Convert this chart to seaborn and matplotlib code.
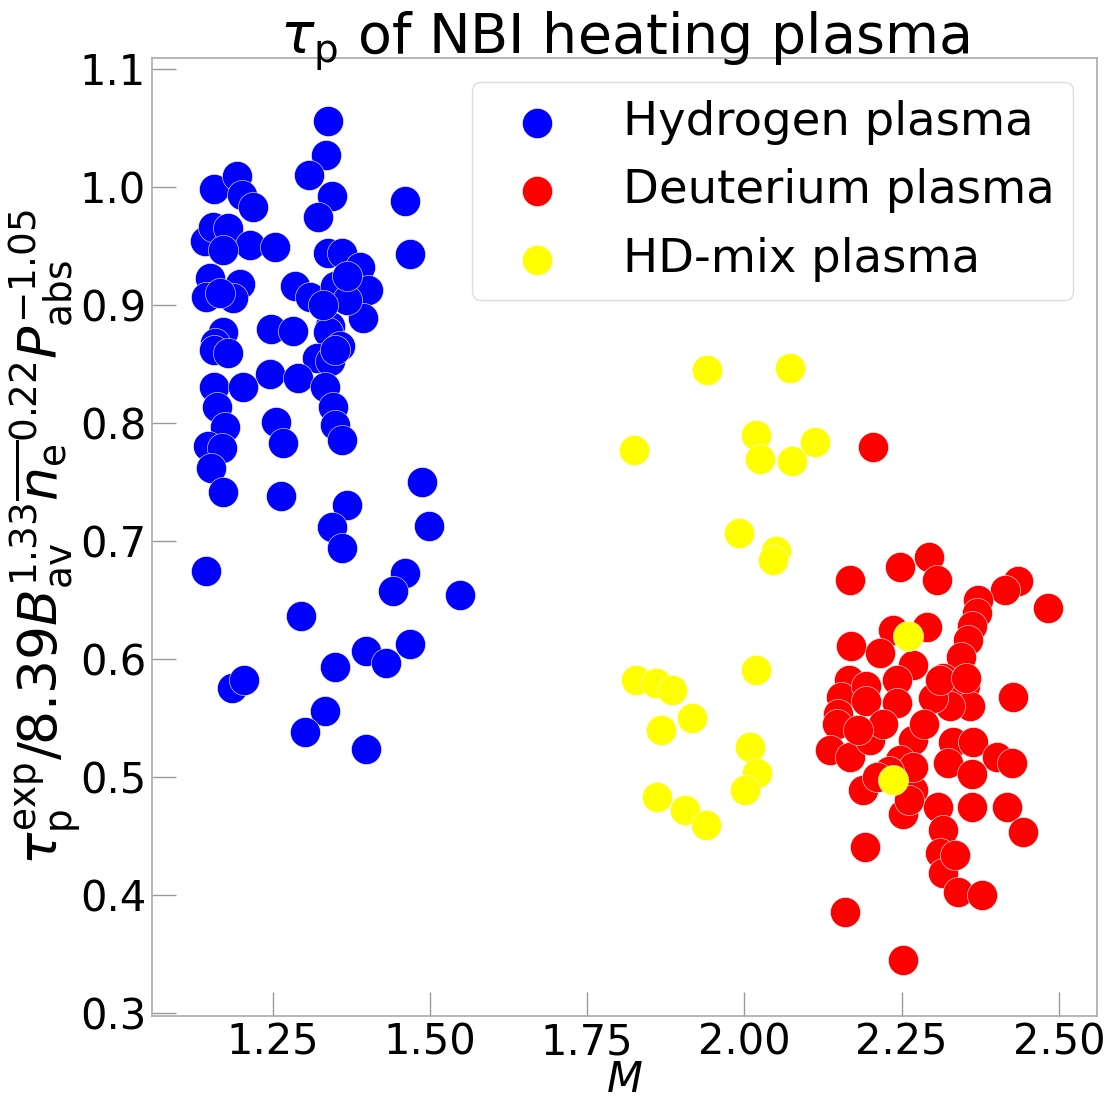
import matplotlib
matplotlib.use("Agg")
import matplotlib.pyplot as plt
import seaborn as sns
import pandas as pd

# ---- data ----
h_mass = [1.338, 1.335, 1.308, 1.345, 1.322, 1.460, 1.468, 1.157, 1.193, 1.201,
          1.219, 1.142, 1.156, 1.179, 1.214, 1.254, 1.171, 1.150, 1.198, 1.144,
          1.187, 1.167, 1.285, 1.309, 1.338, 1.360, 1.389, 1.402, 1.394, 1.349,
          1.368, 1.341, 1.338, 1.357, 1.320, 1.341, 1.349, 1.248, 1.283, 1.172,
          1.158, 1.157, 1.179, 1.246, 1.291, 1.333, 1.346, 1.349, 1.361, 1.256,
          1.267, 1.157, 1.203, 1.161, 1.174, 1.148, 1.169, 1.152, 1.172, 1.264,
          1.144, 1.368, 1.344, 1.360, 1.488, 1.498, 1.460, 1.442, 1.548, 1.296,
          1.468, 1.399, 1.430, 1.349, 1.186, 1.204, 1.333, 1.301, 1.399, 1.368,
          1.330]
h_tau = [1.056, 1.027, 1.010, 0.992, 0.975, 0.988, 0.943, 0.998, 1.009, 0.993,
         0.983, 0.954, 0.966, 0.965, 0.951, 0.949, 0.947, 0.923, 0.918, 0.907,
         0.906, 0.910, 0.916, 0.907, 0.944, 0.944, 0.932, 0.913, 0.889, 0.916,
         0.904, 0.882, 0.877, 0.865, 0.855, 0.853, 0.862, 0.880, 0.878, 0.877,
         0.868, 0.862, 0.859, 0.842, 0.838, 0.831, 0.814, 0.798, 0.786, 0.801,
         0.783, 0.831, 0.831, 0.814, 0.797, 0.781, 0.779, 0.762, 0.742, 0.738,
         0.675, 0.731, 0.712, 0.694, 0.750, 0.713, 0.673, 0.658, 0.654, 0.637,
         0.613, 0.607, 0.597, 0.593, 0.576, 0.582, 0.556, 0.538, 0.524, 0.925,
         0.900]

d_mass = [2.204, 2.168, 2.247, 2.294, 2.306, 2.435, 2.414, 2.483, 2.371, 2.369,
          2.361, 2.356, 2.345, 2.290, 2.236, 2.170, 2.215, 2.268, 2.316, 2.351,
          2.427, 2.358, 2.327, 2.300, 2.167, 2.154, 2.149, 2.194, 2.242, 2.147,
          2.194, 2.242, 2.311, 2.136, 2.168, 2.200, 2.268, 2.247, 2.189, 2.268,
          2.252, 2.192, 2.308, 2.316, 2.311, 2.316, 2.160, 2.252, 2.340, 2.377,
          2.353, 2.332, 2.364, 2.401, 2.425, 2.324, 2.362, 2.268, 2.262, 2.361,
          2.417, 2.443, 2.335, 2.220, 2.180, 2.230, 2.210, 2.285]
d_tau = [0.780, 0.667, 0.678, 0.687, 0.667, 0.666, 0.659, 0.643, 0.650, 0.639,
         0.628, 0.616, 0.602, 0.627, 0.625, 0.611, 0.605, 0.595, 0.584, 0.577,
         0.568, 0.560, 0.560, 0.567, 0.582, 0.568, 0.554, 0.577, 0.582, 0.545,
         0.565, 0.563, 0.582, 0.523, 0.517, 0.532, 0.532, 0.515, 0.489, 0.489,
         0.469, 0.441, 0.475, 0.455, 0.436, 0.419, 0.386, 0.345, 0.403, 0.400,
         0.584, 0.530, 0.530, 0.517, 0.512, 0.512, 0.503, 0.509, 0.481, 0.475,
         0.475, 0.454, 0.434, 0.545, 0.540, 0.505, 0.500, 0.545]

hd_mass = [1.941, 2.073, 1.824, 2.019, 2.024, 2.075, 2.112, 1.991, 2.051, 2.046,
           1.827, 1.859, 1.885, 1.867, 1.917, 1.861, 1.905, 1.939, 2.018, 2.009,
           2.020, 2.001, 2.260, 2.236]
hd_tau = [0.845, 0.847, 0.777, 0.790, 0.770, 0.768, 0.784, 0.707, 0.692, 0.684,
          0.582, 0.580, 0.574, 0.540, 0.550, 0.483, 0.472, 0.460, 0.591, 0.526,
          0.504, 0.489, 0.620, 0.498]

labels = ["Hydrogen plasma", "Deuterium plasma", "HD-mix plasma"]
colors = ["blue", "red", "yellow"]
x_ticks = [1.25, 1.50, 1.75, 2.00, 2.25, 2.50]
y_ticks = [0.3, 0.4, 0.5, 0.6, 0.7, 0.8, 0.9, 1.0, 1.1]

# ---- style ----
sns.set_style("white")
plt.rcParams["font.family"] = ["DejaVu Sans"]
plt.rcParams["mathtext.fontset"] = "dejavusans"
plt.rcParams["text.color"] = "black"
plt.rcParams["axes.labelcolor"] = "black"

fig = plt.figure(figsize=(11.19, 11.03), dpi=100)
ax = fig.add_axes([0.1356, 0.0791, 0.8445, 0.868])

groups = [(h_mass, h_tau), (d_mass, d_tau), (hd_mass, hd_tau)]
for (xs, ys), lab, col in zip(groups, labels, colors):
    df = pd.DataFrame({"M": xs, "tau": ys})
    sns.scatterplot(data=df, x="M", y="tau", color=col, s=470,
                    edgecolor="white", linewidth=0.4, label=lab, ax=ax)

ax.set_xlim(1.058, 2.56)
ax.set_ylim(0.298, 1.109)
ax.set_xticks(x_ticks)
ax.set_xticklabels([f"{v:.2f}" for v in x_ticks])
ax.set_yticks(y_ticks)
ax.set_yticklabels([f"{v:.1f}" for v in y_ticks])

for sp in ax.spines.values():
    sp.set_color("#aaaaaa")
    sp.set_linewidth(1.2)
ax.tick_params(axis="both", which="major", bottom=True, left=True,
               direction="in", length=17, width=1,
               color="#999999", labelsize=30, labelcolor="black", pad=4)

ax.set_title(r"$\tau_\mathrm{p}$ of NBI heating plasma", fontsize=40, pad=4,
             color="black")
ax.set_xlabel(r"$M$", fontsize=30, labelpad=-3, color="black")
ax.set_ylabel(r"$\tau_\mathrm{p}^\mathrm{exp}/8.39B_\mathrm{av}^{1.33}"
              r"\overline{n_\mathrm{e}}^{0.22}P_\mathrm{abs}^{-1.05}$",
              fontsize=38.5, labelpad=-2, color="black")

leg = ax.legend(loc="upper right", fontsize=33.5, frameon=True,
                borderpad=0.4, labelspacing=0.5, handlelength=2.0,
                handletextpad=0.85, borderaxespad=0.5, framealpha=1.0)
leg.get_frame().set_edgecolor("#dddddd")
for t in leg.get_texts():
    t.set_color("black")

fig.savefig("out.png", dpi=100)
